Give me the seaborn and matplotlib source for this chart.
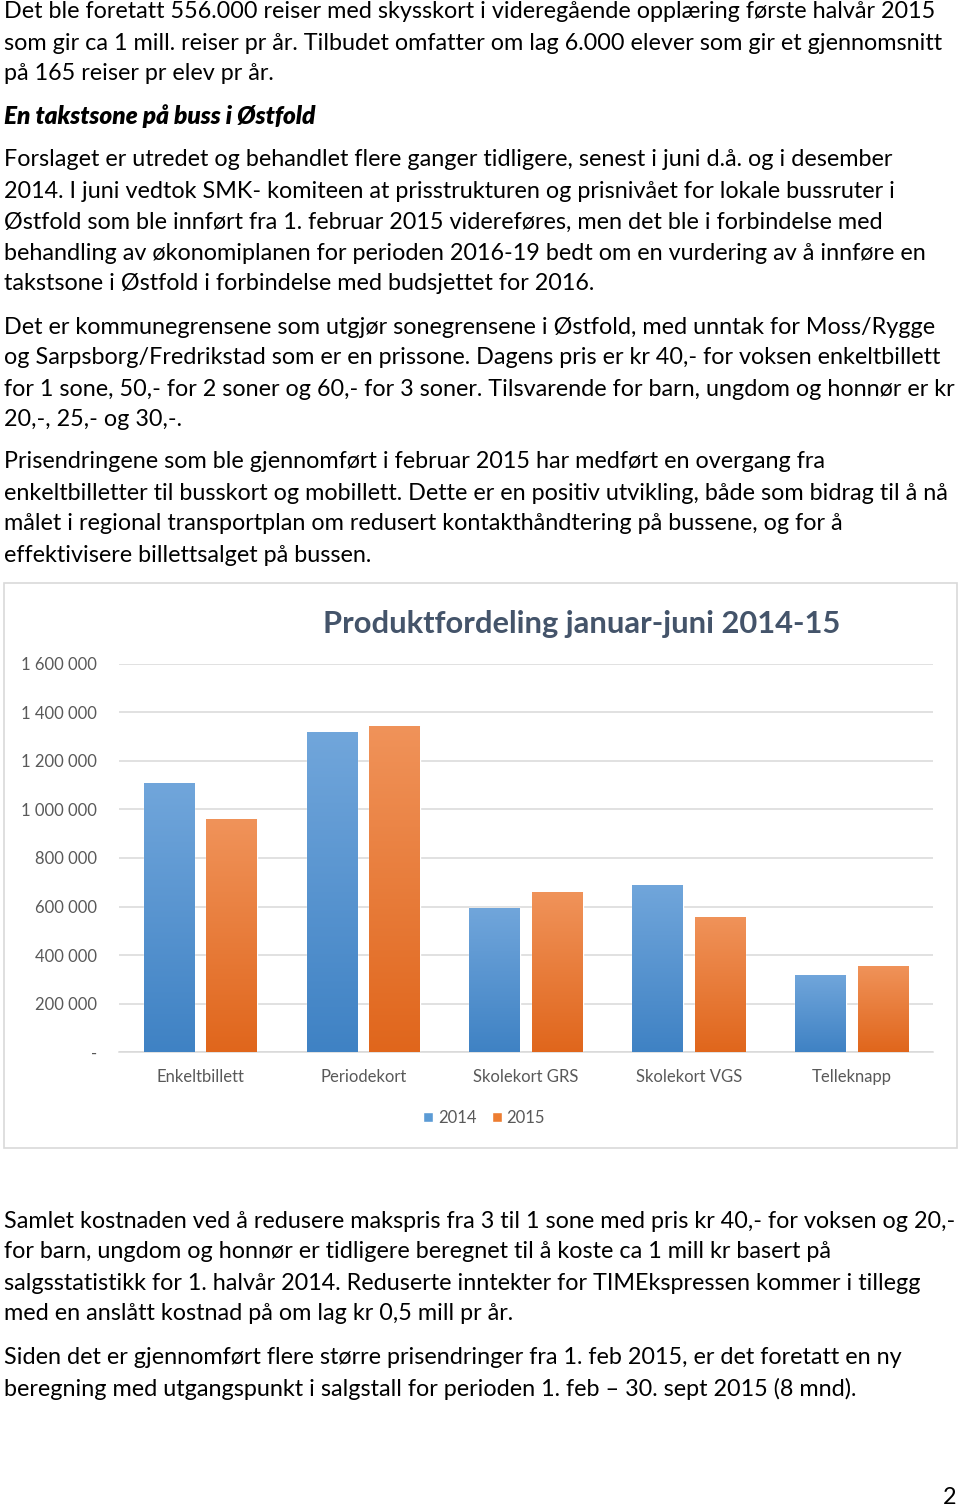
import numpy as np
import pandas as pd
import matplotlib
matplotlib.use("Agg")
import matplotlib.pyplot as plt
import seaborn as sns
from matplotlib.colors import LinearSegmentedColormap
from matplotlib.patches import Rectangle

# --- chart data ---
produkter = ["Enkeltbillett", "Periodekort", "Skolekort GRS", "Skolekort VGS", "Telleknapp"]
reiser_2014 = [1110000, 1318000, 595000, 690000, 318000]
reiser_2015 = [960000, 1345000, 658000, 558000, 356000]
aar = ["2014", "2015"]
ytick_values = [0, 200000, 400000, 600000, 800000, 1000000, 1200000, 1400000, 1600000]
ytick_labels = ["-", "200 000", "400 000", "600 000", "800 000",
                "1 000 000", "1 200 000", "1 400 000", "1 600 000"]
tittel = "Produktfordeling januar-juni 2014-15"

# --- page text, line by line as in the document ---
avsnitt_1 = [
    "Det ble foretatt 556.000 reiser med skysskort i videregående opplæring første halvår 2015",
    "som gir ca 1 mill. reiser pr år. Tilbudet omfatter om lag 6.000 elever som gir et gjennomsnitt",
    "på 165 reiser pr elev pr år.",
]
overskrift = "En takstsone på buss i Østfold"
avsnitt_2 = [
    "Forslaget er utredet og behandlet flere ganger tidligere, senest i juni d.å. og i desember",
    "2014. I juni vedtok SMK- komiteen at prisstrukturen og prisnivået for lokale bussruter i",
    "Østfold som ble innført fra 1. februar 2015 videreføres, men det ble i forbindelse med",
    "behandling av økonomiplanen for perioden 2016-19 bedt om en vurdering av å innføre en",
    "takstsone i Østfold i forbindelse med budsjettet for 2016.",
]
avsnitt_3 = [
    "Det er kommunegrensene som utgjør sonegrensene i Østfold, med unntak for Moss/Rygge",
    "og Sarpsborg/Fredrikstad som er en prissone. Dagens pris er kr 40,- for voksen enkeltbillett",
    "for 1 sone, 50,- for 2 soner og 60,- for 3 soner. Tilsvarende for barn, ungdom og honnør er kr",
    "20,-, 25,- og 30,-.",
]
avsnitt_4 = [
    "Prisendringene som ble gjennomført i februar 2015 har medført en overgang fra",
    "enkeltbilletter til busskort og mobillett. Dette er en positiv utvikling, både som bidrag til å nå",
    "målet i regional transportplan om redusert kontakthåndtering på bussene, og for å",
    "effektivisere billettsalget på bussen.",
]
avsnitt_5 = [
    "Samlet kostnaden ved å redusere makspris fra 3 til 1 sone med pris kr 40,- for voksen og 20,-",
    "for barn, ungdom og honnør er tidligere beregnet til å koste ca 1 mill kr basert på",
    "salgsstatistikk for 1. halvår 2014. Reduserte inntekter for TIMEkspressen kommer i tillegg",
    "med en anslått kostnad på om lag kr 0,5 mill pr år.",
]
avsnitt_6 = [
    "Siden det er gjennomført flere større prisendringer fra 1. feb 2015, er det foretatt en ny",
    "beregning med utgangspunkt i salgstall for perioden 1. feb \u2013 30. sept 2015 (8 mnd).",
]
sidetall = "2"

sns.set_style("white")
plt.rcParams["font.family"] = ["Lato", "DejaVu Sans"]

W, H = 960, 1505
fig = plt.figure(figsize=(W / 100, H / 100), dpi=100)
fig.patch.set_facecolor("white")


def fy(py):
    return 1 - py / H


def fx(px):
    return px / W


# pick body font size so the widest line fills the text column
renderer = fig.canvas.get_renderer()
probe = fig.text(0, 0, avsnitt_4[1], fontsize=10)
w10 = probe.get_window_extent(renderer).width
probe.remove()
body_fs = 10 * 945 / w10


def write_lines(lines, y0, step=31, **kw):
    for i, line in enumerate(lines):
        fig.text(fx(4), fy(y0 + i * step), line, fontsize=body_fs,
                 va="center", ha="left", color="black", **kw)


write_lines(avsnitt_1, 12)
fig.text(fx(4), fy(116), overskrift, fontsize=body_fs * 1.04, fontweight="heavy",
         fontstyle="italic", va="center", ha="left", color="black")
write_lines(avsnitt_2, 160)
write_lines(avsnitt_3, 327)
write_lines(avsnitt_4, 462)
write_lines(avsnitt_5, 1221)
write_lines(avsnitt_6, 1358)
fig.text(fx(956), fy(1497), sidetall, fontsize=body_fs, va="center", ha="right", color="black")

# chart frame
fig.patches.append(Rectangle((fx(4), fy(1148)), fx(953), (1148 - 583) / H,
                             transform=fig.transFigure, fill=False,
                             edgecolor="#D9D9D9", linewidth=1.2))

# --- chart ---
df = pd.DataFrame({
    "produkt": produkter * 2,
    "reiser": reiser_2014 + reiser_2015,
    "aar": [aar[0]] * len(produkter) + [aar[1]] * len(produkter),
})

blue, orange = "#5b9bd5", "#ed7d31"
grad = {
    blue: LinearSegmentedColormap.from_list("b", ["#3F82C4", "#71A6DB"]),
    orange: LinearSegmentedColormap.from_list("o", ["#E0661C", "#F0935A"]),
}

ax = fig.add_axes([fx(119), fy(1052), fx(933 - 119), 388 / H])
sns.barplot(data=df, x="produkt", y="reiser", hue="aar", palette=[blue, orange],
            saturation=1, width=0.767, gap=0.19, legend=False, ax=ax, zorder=2)

ax.set_xlim(-0.5, len(produkter) - 0.5)
ax.set_ylim(0, 1600000)
ax.set_yticks(ytick_values)
ax.set_yticklabels(ytick_labels)
ax.set_xlabel("")
ax.set_ylabel("")
ax.grid(axis="y", color="#D9D9D9", linewidth=1.1, zorder=0)
ax.set_axisbelow(True)
for s in ["top", "right", "left"]:
    ax.spines[s].set_visible(False)
ax.spines["bottom"].set_color("#D9D9D9")
ax.spines["bottom"].set_linewidth(1.1)
ax.tick_params(axis="y", length=0, pad=16, labelsize=12, labelcolor="#595959")
ax.tick_params(axis="x", length=0, pad=12, labelsize=12, labelcolor="#595959")

# vertical gradient inside every bar, like the Office chart fill
ramp = np.linspace(0, 1, 256).reshape(-1, 1)
for bar in list(ax.patches):
    fc = matplotlib.colors.to_hex(bar.get_facecolor()).lower()
    cmap = grad.get(fc)
    if cmap is None:
        continue
    x0, w, h = bar.get_x(), bar.get_width(), bar.get_height()
    im = ax.imshow(ramp, extent=[x0, x0 + w, 0, h], origin="lower",
                   aspect="auto", cmap=cmap, zorder=3)
    im.set_clip_path(bar)
ax.set_xlim(-0.5, len(produkter) - 0.5)
ax.set_ylim(0, 1600000)

fig.text(fx(582), fy(624), tittel, fontsize=22.2, fontweight="bold",
         color="#44546A", ha="center", va="center")

handles = [Rectangle((0, 0), 1, 1, facecolor="#5B9BD5"), Rectangle((0, 0), 1, 1, facecolor="#ED7D31")]
fig.legend(handles, aar, loc="center", bbox_to_anchor=(fx(484), fy(1118)), ncol=2,
           frameon=False, fontsize=12, labelcolor="#595959", handlelength=0.6,
           handleheight=0.6, handletextpad=0.3, columnspacing=0.9)

fig.savefig("out.png", dpi=100, facecolor="white")
